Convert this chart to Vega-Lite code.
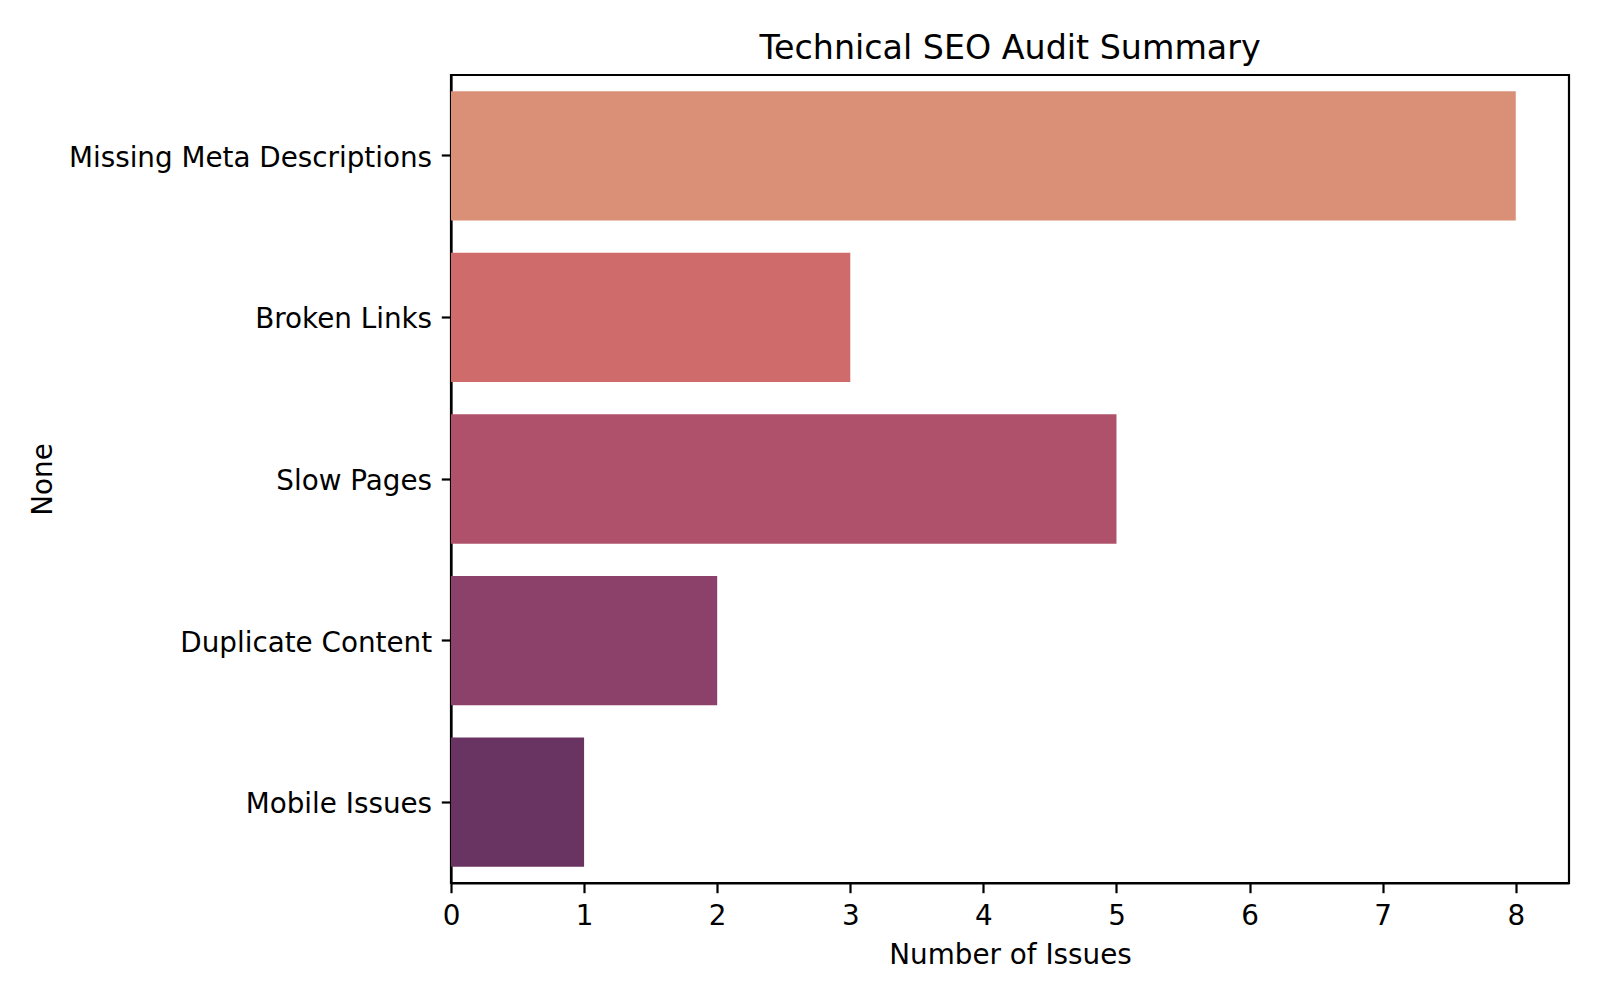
{
  "$schema": "https://vega.github.io/schema/vega-lite/v6.json",
  "width": 1118,
  "height": 808,
  "autosize": {"type": "none"},
  "padding": {"left": 451, "top": 75, "right": 31, "bottom": 117},
  "background": "white",
  "title": {
    "text": "Technical SEO Audit Summary",
    "font": "DejaVu Sans",
    "fontSize": 33.3,
    "fontWeight": "normal",
    "color": "black",
    "anchor": "middle",
    "baseline": "alphabetic",
    "offset": 17,
    "dy": 34
  },
  "data": {
    "values": [
      {"issue": "Missing Meta Descriptions", "count": 8, "color": "#da8f77"},
      {"issue": "Broken Links", "count": 3, "color": "#cf6b6a"},
      {"issue": "Slow Pages", "count": 5, "color": "#b0516b"},
      {"issue": "Duplicate Content", "count": 2, "color": "#8c416a"},
      {"issue": "Mobile Issues", "count": 1, "color": "#693362"}
    ]
  },
  "mark": {"type": "bar"},
  "encoding": {
    "y": {
      "field": "issue",
      "type": "nominal",
      "sort": null,
      "scale": {"paddingInner": 0.2, "paddingOuter": 0.1},
      "axis": {
        "title": "None",
        "titleX": -408,
        "titleY": 404,
        "titleAngle": -90,
        "titleAlign": "center",
        "titleBaseline": "middle",
        "labelOffset": 3
      }
    },
    "x": {
      "field": "count",
      "type": "quantitative",
      "scale": {"domain": [0, 8.4], "nice": false, "zero": true},
      "axis": {
        "title": "Number of Issues",
        "values": [0, 1, 2, 3, 4, 5, 6, 7, 8],
        "format": "d",
        "grid": false,
        "labelFlush": false,
        "titlePadding": 11
      }
    },
    "color": {"field": "color", "type": "nominal", "scale": null, "legend": null}
  },
  "config": {
    "view": {"stroke": "black", "strokeWidth": 2.2},
    "axis": {
      "domainColor": "black",
      "domainWidth": 2.2,
      "tickColor": "black",
      "tickWidth": 2.2,
      "tickSize": 9.7,
      "labelPadding": 9.7,
      "labelFont": "DejaVu Sans",
      "labelFontSize": 27.8,
      "labelColor": "black",
      "titleFont": "DejaVu Sans",
      "titleFontSize": 27.8,
      "titleFontWeight": "normal",
      "titleColor": "black",
      "grid": false,
      "labelLimit": 1000
    }
  }
}
